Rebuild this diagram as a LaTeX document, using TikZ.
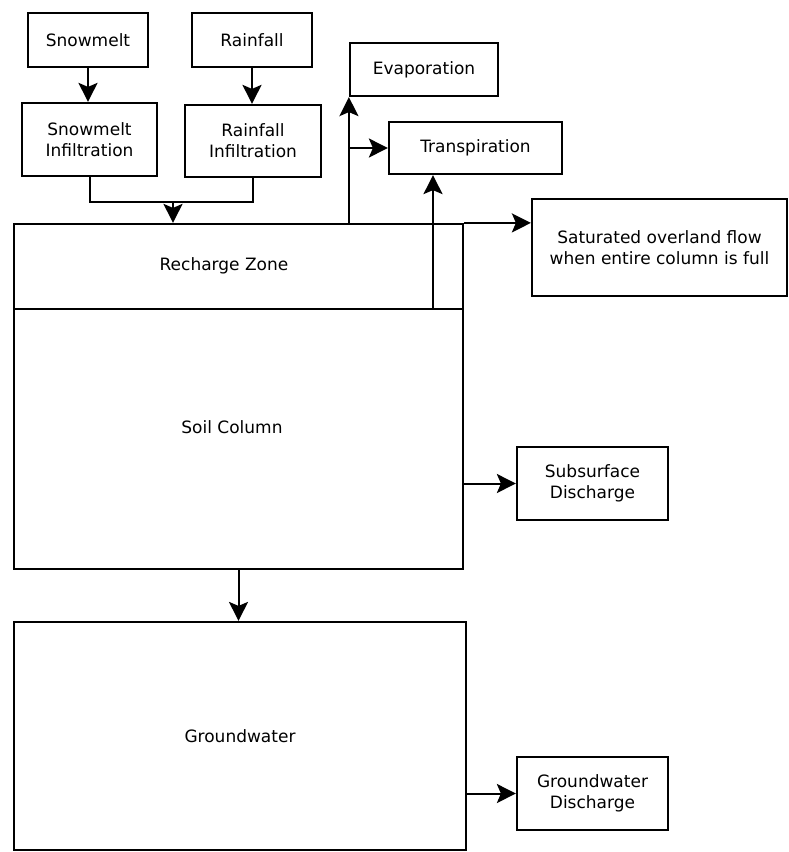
\documentclass[tikz,border=0pt]{standalone}
\usepackage{fontspec}
\setmainfont{DejaVu Sans}
\usetikzlibrary{arrows.meta,positioning,calc}

\tikzset{
  blk/.style={draw, line width=2.2pt, align=center, inner sep=0pt},
  zone/.style={draw, line width=2.2pt, minimum width=449pt, inner sep=0pt},
  flow/.style={-{Stealth[length=19pt,width=19pt,inset=4pt]}, line width=2pt},
  pipe/.style={line width=2pt}
}

\begin{document}
\begin{tikzpicture}[x=1pt, y=-1pt, every node/.style={font=\fontsize{17}{21}\selectfont}]
  \useasboundingbox (0,0) rectangle (789,852);
  % inputs
  \node[blk, minimum width=120pt, minimum height=54pt] (snow) at (88,40) {Snowmelt};
  \node[blk, minimum width=120pt, minimum height=54pt] (rain) at (252,40) {Rainfall};
  \node[blk, minimum width=135pt, minimum height=73pt] (snowinf) at (89.5,139.5) {Snowmelt\\Infiltration};
  \node[blk, minimum width=136pt, minimum height=72pt] (raininf) at (253,141) {Rainfall\\Infiltration};
  % soil column and groundwater
  \node[zone, minimum height=85pt] (recharge) at (238.5,266.5) {};
  \node (rechargetxt) at (224,266) {Recharge Zone};
  \node[zone, minimum height=260pt] (soil) at (238.5,439) {};
  \node (soiltxt) at (232,427) {Soil Column};
  \node[blk, minimum width=452pt, minimum height=228pt] (gw) at (240,736) {Groundwater};
  % outputs
  \node[blk, minimum width=148pt, minimum height=53pt] (evap) at (424,69.5) {Evaporation};
  \node[blk, minimum width=173pt, minimum height=52pt] (transp) at (475.5,148) {Transpiration};
  \node[blk, minimum width=255pt, minimum height=97pt] (overland) at (659.5,247.5) {Saturated overland flow\\when entire column is full};
  \node[blk, minimum width=151pt, minimum height=73pt] (subsurf) at (592.5,483.5) {Subsurface\\Discharge};
  \node[blk, minimum width=151pt, minimum height=73pt] (gwdis) at (592.5,793.5) {Groundwater\\Discharge};
  \coordinate (merge) at (173,202);
  \coordinate (uptake) at (433,309);
  % connectors
  \draw[flow] (snow.south) -- (snow.south |- snowinf.north);
  \draw[flow] (rain.south) -- (rain.south |- raininf.north);
  \draw[pipe] (snowinf.south) |- (merge);
  \draw[pipe] (raininf.south) |- (merge);
  \draw[flow] (merge) -- (merge |- recharge.north);
  \draw[flow] (recharge.north -| evap.south west) -- (evap.south west);
  \draw[flow] (evap.south west |- transp.west) -- (transp.west);
  \draw[flow] (uptake) -- (uptake |- transp.south);
  \draw[flow] (recharge.north east) -- (recharge.north east -| overland.west);
  \draw[flow] (soil.east |- subsurf.west) -- (subsurf.west);
  \draw[flow] (soil.south) -- (soil.south |- gw.north);
  \draw[flow] (gw.east |- gwdis.west) -- (gwdis.west);
\end{tikzpicture}
\end{document}
